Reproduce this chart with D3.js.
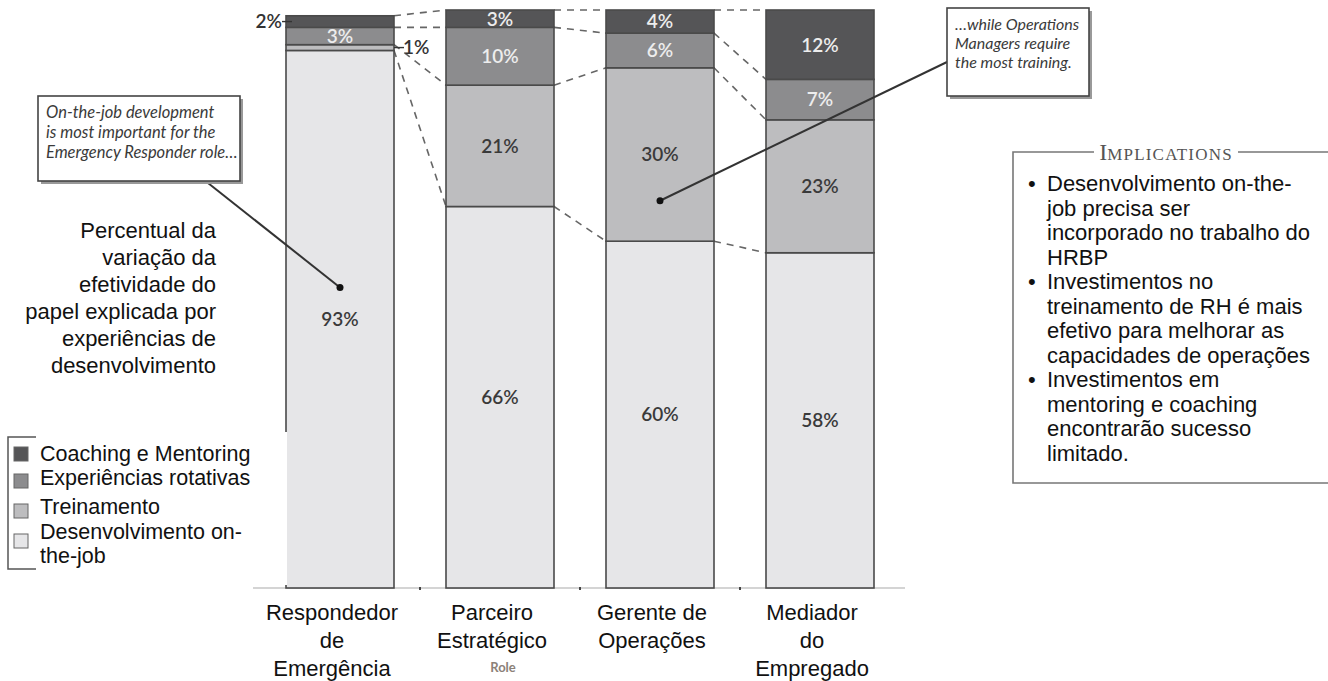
<!DOCTYPE html>
<html>
<head>
<meta charset="utf-8">
<script src="https://cdn.jsdelivr.net/npm/d3@7"></script>
<style>
  body { margin: 0; background: #fff; }
  svg { display: block; }
</style>
</head>
<body>
<div id="chart"></div>
<script>
const width = 1328, height = 681;

// data
const roles = ['Respondedor de Emergência', 'Parceiro Estratégico', 'Gerente de Operações', 'Mediador do Empregado'];
const roleLines = [['Respondedor', 'de', 'Emergência'], ['Parceiro', 'Estratégico'], ['Gerente de', 'Operações'], ['Mediador', 'do', 'Empregado']];
const keys = ['onTheJob', 'training', 'rotations', 'coaching'];
const onTheJob = [93, 66, 60, 58];
const training = [1, 21, 30, 23];
const rotations = [3, 10, 6, 7];
const coaching = [2, 3, 4, 12];
const legendNames = ['Coaching e Mentoring', 'Experiências rotativas', 'Treinamento', 'Desenvolvimento on-the-job'];
const titleLines = ['Percentual da', 'variação da', 'efetividade do', 'papel explicada por', 'experiências de', 'desenvolvimento'];
const implications = [
  ['Desenvolvimento on-the-', 'job precisa ser', 'incorporado no trabalho do', 'HRBP'],
  ['Investimentos no', 'treinamento de RH é mais', 'efetivo para melhorar as', 'capacidades de operações'],
  ['Investimentos em', 'mentoring e coaching', 'encontrarão sucesso', 'limitado.']
];
const callouts = [
  { role: 0, value: 52, lines: ['On-the-job development', 'is most important for the', 'Emergency Responder role…'] },
  { role: 2, value: 67, lines: ['…while Operations', 'Managers require', 'the most training.'] }
];

const table = roles.map((r, i) => ({ role: r, onTheJob: onTheJob[i], training: training[i], rotations: rotations[i], coaching: coaching[i] }));

const fills = { onTheJob: '#e6e6e8', training: '#bdbdbf', rotations: '#8c8c8e', coaching: '#555557' };
const labelFill = { onTheJob: '#3a3a3a', training: '#3a3a3a', rotations: '#ededed', coaching: '#ededed' };
const sans = 'Liberation Sans, Arial, sans-serif';

const svg = d3.select('#chart').append('svg')
  .attr('width', width).attr('height', height);

const x = d3.scaleBand().domain(roles).range([234, 926]).paddingInner(0.325).paddingOuter(0.325);
const y = d3.scaleLinear().domain([0, 100]).range([588, 10]);
const bw = x.bandwidth();

const stacked = d3.stack().keys(keys)(table);

// axis line
svg.append('g')
  .attr('transform', `translate(0,${y(0)})`)
  .call(d3.axisBottom(x).tickSize(0).tickFormat(''))
  .call(g => g.select('.domain').attr('d', `M253,0H905`).attr('stroke', '#aaa').attr('stroke-width', 1.2));

// small ticks between bars
svg.append('g').selectAll('line')
  .data(roles.slice(1))
  .join('line')
  .attr('x1', d => x(d) - (x.step() - bw) / 2).attr('x2', d => x(d) - (x.step() - bw) / 2)
  .attr('y1', y(0) - 1).attr('y2', y(0) + 2)
  .attr('stroke', '#444').attr('stroke-width', 2);

// dashed connectors between bars
const connectors = [];
stacked.forEach(layer => {
  for (let i = 0; i < roles.length - 1; i++) {
    connectors.push({ x1: x(roles[i]) + bw, y1: y(layer[i][1]), x2: x(roles[i + 1]), y2: y(layer[i + 1][1]) });
  }
});
svg.append('g').selectAll('line')
  .data(connectors)
  .join('line')
  .attr('x1', d => d.x1).attr('y1', d => d.y1)
  .attr('x2', d => d.x2).attr('y2', d => d.y2)
  .attr('stroke', '#666').attr('stroke-width', 1.6)
  .attr('stroke-dasharray', '7,6');

// bars
const layers = svg.append('g').selectAll('g')
  .data(stacked)
  .join('g')
  .attr('fill', d => fills[d.key]);

layers.selectAll('rect')
  .data(d => d)
  .join('rect')
  .attr('x', d => x(d.data.role))
  .attr('y', d => y(d[1]))
  .attr('width', bw)
  .attr('height', d => y(d[0]) - y(d[1]))
  .attr('stroke', '#4a4a4a')
  .attr('stroke-width', 1.6);

// segment labels
const segLabels = [];
stacked.forEach(layer => {
  layer.forEach((d, i) => {
    const v = d[1] - d[0];
    segLabels.push({ key: layer.key, v, i, role: d.data.role, mid: (d[0] + d[1]) / 2, top: d[1] });
  });
});

svg.append('g').selectAll('text')
  .data(segLabels.filter(d => d.v > 2))
  .join('text')
  .attr('x', d => x(d.role) + bw / 2)
  .attr('y', d => y(d.mid))
  .attr('dy', '0.36em')
  .attr('text-anchor', 'middle')
  .attr('font-family', 'Lato, sans-serif')
  .attr('font-size', 19)
  .attr('font-weight', 600)
  .attr('fill', d => labelFill[d.key])
  .text(d => d.v + '%');

// small values written outside the bar with a leader
const outside = segLabels.filter(d => d.v <= 2);
const outG = svg.append('g').selectAll('g')
  .data(outside)
  .join('g');
outG.append('line')
  .attr('x1', d => d.key === 'coaching' ? x(d.role) - 4 : x(d.role) + bw)
  .attr('x2', d => d.key === 'coaching' ? x(d.role) + 6 : x(d.role) + bw + 10)
  .attr('y1', d => y(d.mid)).attr('y2', d => y(d.mid))
  .attr('stroke', '#333').attr('stroke-width', 1.4);
outG.append('text')
  .attr('x', d => d.key === 'coaching' ? x(d.role) - 4 : x(d.role) + bw + 9)
  .attr('y', d => y(d.mid))
  .attr('dy', '0.36em')
  .attr('text-anchor', d => d.key === 'coaching' ? 'end' : 'start')
  .attr('font-family', 'Lato, sans-serif')
  .attr('font-size', 19)
  .attr('font-weight', 600)
  .attr('fill', '#333')
  .text(d => d.v + '%');

// category labels
const catG = svg.append('g').selectAll('text')
  .data(roles)
  .join('text')
  .attr('x', d => x(d) + bw / 2 - 8)
  .attr('y', 620)
  .attr('text-anchor', 'middle')
  .attr('font-family', sans)
  .attr('font-size', 22)
  .attr('fill', '#111');
catG.selectAll('tspan')
  .data((d, i) => roleLines[i])
  .join('tspan')
  .attr('x', function () { return this.parentNode.getAttribute('x'); })
  .attr('dy', (d, i) => i === 0 ? 0 : 28)
  .text(d => d);

svg.append('text')
  .attr('x', x(roles[1]) + bw / 2 + 3).attr('y', 672)
  .attr('text-anchor', 'middle')
  .attr('font-family', 'Lato, sans-serif')
  .attr('font-size', 13).attr('font-weight', 700)
  .attr('fill', '#8b8178')
  .text('Role');

// left title
svg.append('g').selectAll('text')
  .data(titleLines)
  .join('text')
  .attr('x', 216)
  .attr('y', (d, i) => 238 + i * 27)
  .attr('text-anchor', 'end')
  .attr('font-family', sans)
  .attr('font-size', 22)
  .attr('fill', '#111')
  .text(d => d);

// callouts
const boxes = [
  { x: 38, y: 96, w: 202, h: 85, lx: 208, ly: 183, fs: 16.5, lh: 20 },
  { x: 947, y: 8, w: 142, h: 88, lx: 947, ly: 62, fs: 16, lh: 19 }
];
callouts.forEach((c, i) => {
  const b = boxes[i];
  const cx = x(roles[c.role]) + bw / 2, cy = y(c.value);
  svg.append('line')
    .attr('x1', b.lx).attr('y1', b.ly).attr('x2', cx).attr('y2', cy)
    .attr('stroke', '#333').attr('stroke-width', 2);
  svg.append('circle').attr('cx', cx).attr('cy', cy).attr('r', 3.5).attr('fill', '#111');
  svg.append('rect').attr('x', b.x + 3).attr('y', b.y + 3).attr('width', b.w).attr('height', b.h).attr('fill', '#999');
  svg.append('rect').attr('x', b.x).attr('y', b.y).attr('width', b.w).attr('height', b.h)
    .attr('fill', '#fff').attr('stroke', '#444').attr('stroke-width', 1.6);
  svg.append('g').selectAll('text')
    .data(c.lines)
    .join('text')
    .attr('x', b.x + 8)
    .attr('y', (d, j) => b.y + 22 + j * b.lh)
    .attr('font-family', 'Lato, sans-serif')
    .attr('font-style', 'italic')
    .attr('font-size', b.fs)
    .attr('fill', '#3a3a3a')
    .text(d => d);
});

// legend (white panel covers the first bar's edge)
const leg = svg.append('g');
leg.append('rect').attr('x', 0).attr('y', 432).attr('width', 287).attr('height', 153).attr('fill', '#fff');
leg.append('path').attr('d', 'M36,437H8V569H36').attr('fill', 'none').attr('stroke', '#555').attr('stroke-width', 1.5);
const legKeys = ['coaching', 'rotations', 'training', 'onTheJob'];
const legY = [454, 481, 511, 541];
const textRows = [
  { t: 'Coaching e Mentoring', y: 461 },
  { t: 'Experiências rotativas', y: 485 },
  { t: 'Treinamento', y: 514 },
  { t: 'Desenvolvimento on-', y: 539 },
  { t: 'the-job', y: 563 }
];
leg.selectAll('rect.sw')
  .data(legKeys)
  .join('rect')
  .attr('class', 'sw')
  .attr('x', 14).attr('y', (d, i) => legY[i] - 7)
  .attr('width', 14).attr('height', 14)
  .attr('fill', d => fills[d]).attr('stroke', '#666');
leg.selectAll('text')
  .data(textRows)
  .join('text')
  .attr('x', 40).attr('y', d => d.y)
  .attr('font-family', sans)
  .attr('font-size', 21.5)
  .attr('fill', '#111')
  .text(d => d.t);

// implications box
const imp = svg.append('g');
imp.append('path')
  .attr('d', 'M1094,152H1013V483H1328M1238,152H1328')
  .attr('fill', 'none').attr('stroke', '#777').attr('stroke-width', 1.6);
const head = imp.append('text')
  .attr('x', 1166).attr('y', 160)
  .attr('text-anchor', 'middle')
  .attr('font-family', 'Liberation Serif, serif')
  .attr('fill', '#555');
head.append('tspan').attr('font-size', 24).text('I');
head.append('tspan').attr('font-size', 17).attr('letter-spacing', 1.2).text('MPLICATIONS');

let lineIdx = 0;
implications.forEach(item => {
  imp.append('text')
    .attr('x', 1028).attr('y', 191 + lineIdx * 24.5)
    .attr('font-family', sans)
    .attr('font-size', 22).attr('fill', '#111')
    .text('•');
  item.forEach(t => {
    imp.append('text')
      .attr('x', 1047).attr('y', 191 + lineIdx * 24.5)
      .attr('font-family', sans)
      .attr('font-size', 22).attr('fill', '#111')
      .text(t);
    lineIdx++;
  });
});
</script>
</body>
</html>
